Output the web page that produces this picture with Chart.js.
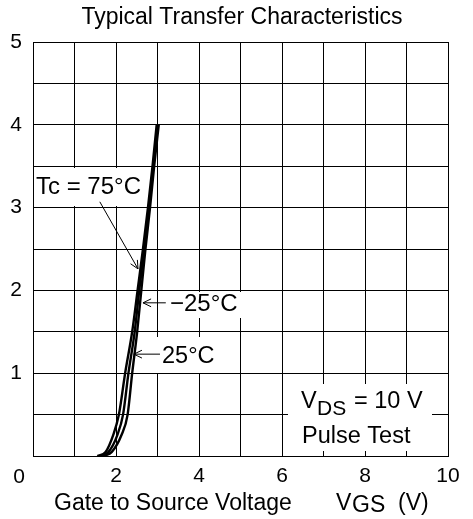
<!DOCTYPE html>
<html>
<head>
<meta charset="utf-8">
<script src="https://cdn.jsdelivr.net/npm/chart.js@4.4.0/dist/chart.umd.min.js"></script>
<style>
    html, body { margin: 0; padding: 0; background: #fff; }
</style>
</head>
<body>
<canvas id="transferChart" width="473" height="519"></canvas>
<script>
// Tick labels shown on the axes
const xTicks = [2, 4, 6, 8, 10];
const yTicks = [1, 2, 3, 4, 5];

// Drain current levels (A) the curves were read at
const drainCurrent = [0, 0.05, 0.25, 0.5, 1.0, 1.5, 2.0, 2.5, 3.0, 3.5, 4.0];

// Gate voltage (V) for each current level, per case temperature
const vgs75 = [1.55, 1.75, 1.93, 2.07, 2.22, 2.39, 2.52, 2.65, 2.77, 2.88, 2.98];
const vgs25 = [1.62, 1.82, 2.03, 2.17, 2.30, 2.45, 2.56, 2.68, 2.79, 2.90, 3.00];
const vgsMinus25 = [1.70, 1.90, 2.13, 2.28, 2.39, 2.51, 2.61, 2.71, 2.82, 2.92, 3.03];

const FONT = 'Arial, "Liberation Sans", sans-serif';

function toPoints(xs, ys) {
    return xs.map((x, i) => ({ x: x, y: ys[i] }));
}

function curve(label, xs) {
    return {
        label: label,
        data: toPoints(xs, drainCurrent),
        showLine: true,
        borderColor: '#000',
        borderWidth: 2.4,
        pointRadius: 0,
        fill: false,
        cubicInterpolationMode: 'monotone'
    };
}

function arrow(ctx, x1, y1, x2, y2) {
    const ang = Math.atan2(y2 - y1, x2 - x1);
    const len = 9, spread = 0.45;
    ctx.beginPath();
    ctx.moveTo(x1, y1);
    ctx.lineTo(x2, y2);
    ctx.moveTo(x2 - len * Math.cos(ang - spread), y2 - len * Math.sin(ang - spread));
    ctx.lineTo(x2, y2);
    ctx.lineTo(x2 - len * Math.cos(ang + spread), y2 - len * Math.sin(ang + spread));
    ctx.stroke();
}

// White boxes behind labels, then text and arrows on top
const labelsPlugin = {
    id: 'labels',
    beforeDatasetsDraw(chart) {
        const ctx = chart.ctx;
        ctx.save();
        ctx.fillStyle = '#fff';
        ctx.fillRect(34, 168, 112, 38);   // Tc = 75°C
        ctx.fillRect(162, 292, 84, 26);   // -25°C
        ctx.fillRect(156, 337, 62, 36);   // 25°C
        ctx.fillRect(288, 384, 144, 67);  // VDS box
        ctx.restore();
    },
    afterDraw(chart) {
        const ctx = chart.ctx;
        const xs = chart.scales.x, ys = chart.scales.y;
        ctx.save();
        ctx.fillStyle = '#000';
        ctx.strokeStyle = '#000';
        ctx.lineWidth = 1;
        ctx.textBaseline = 'middle';

        // title
        ctx.font = '23px ' + FONT;
        ctx.textAlign = 'center';
        ctx.fillText('Typical Transfer Characteristics', 242, 18);

        // shared origin label
        ctx.font = '21px ' + FONT;
        ctx.fillText('0', 19, 477);

        // temperature labels
        ctx.textAlign = 'left';
        ctx.font = '24px ' + FONT;
        ctx.fillText('Tc = 75\u00B0C', 36, 187);
        ctx.fillText('\u221225\u00B0C', 170, 304);
        ctx.font = '23.5px ' + FONT;
        ctx.fillText('25\u00B0C', 162, 357);

        arrow(ctx, xs.getPixelForValue(1.61), ys.getPixelForValue(3.07),
                   xs.getPixelForValue(2.53), ys.getPixelForValue(2.26));
        arrow(ctx, xs.getPixelForValue(3.20), ys.getPixelForValue(1.85),
                   xs.getPixelForValue(2.65), ys.getPixelForValue(1.85));
        arrow(ctx, xs.getPixelForValue(3.06), ys.getPixelForValue(1.23),
                   xs.getPixelForValue(2.43), ys.getPixelForValue(1.23));

        // test conditions
        ctx.font = '23.5px ' + FONT;
        ctx.fillText('V', 301, 402);
        ctx.fillText('= 10 V', 354, 402);
        ctx.fillText('Pulse Test', 302, 437);
        ctx.font = '21px ' + FONT;
        ctx.fillText('DS', 317, 409);

        // x axis title
        ctx.font = '23px ' + FONT;
        ctx.fillText('Gate to Source Voltage', 54, 504);
        ctx.fillText('V', 336, 504);
        ctx.fillText('GS', 352, 506);
        ctx.fillText('(V)', 398, 504);
        ctx.restore();
    }
};

const ctx = document.getElementById('transferChart');

new Chart(ctx, {
    type: 'scatter',
    data: {
        datasets: [
            curve('Tc = 75°C', vgs75),
            curve('Tc = 25°C', vgs25),
            curve('Tc = -25°C', vgsMinus25)
        ]
    },
    options: {
        responsive: false,
        animation: false,
        devicePixelRatio: 1,
        layout: { padding: { left: 0, right: 25, top: 42, bottom: 0 } },
        plugins: {
            legend: { display: false },
            tooltip: { enabled: false },
            title: { display: false }
        },
        scales: {
            x: {
                type: 'linear',
                min: 0,
                max: 10,
                afterFit: (scale) => { scale.height = 63; },
                ticks: {
                    stepSize: 1,
                    autoSkip: false,
                    maxRotation: 0,
                    padding: 8,
                    color: '#000',
                    font: { family: FONT, size: 21 },
                    callback: (v) => xTicks.includes(v) ? String(v) : ''
                },
                grid: { color: '#000', lineWidth: 1, drawTicks: false },
                border: { color: '#000', width: 1 }
            },
            y: {
                type: 'linear',
                min: 0,
                max: 5,
                afterFit: (scale) => { scale.width = 33; },
                ticks: {
                    stepSize: 0.5,
                    autoSkip: false,
                    padding: 11,
                    color: '#000',
                    font: { family: FONT, size: 21 },
                    callback: (v) => yTicks.includes(v) ? String(v) : ''
                },
                grid: { color: '#000', lineWidth: 1, drawTicks: false },
                border: { color: '#000', width: 1 }
            }
        }
    },
    plugins: [labelsPlugin]
});
</script>
</body>
</html>
